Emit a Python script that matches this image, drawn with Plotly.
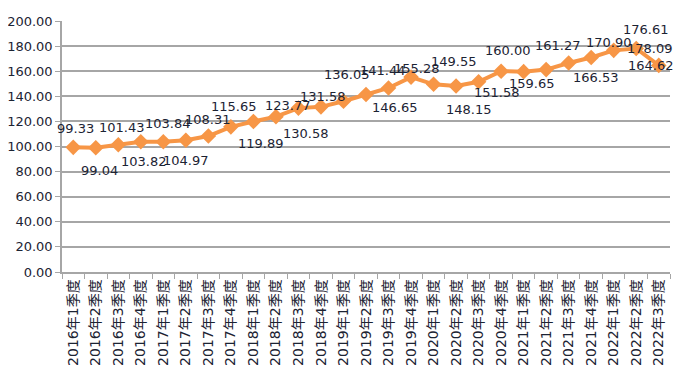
import plotly.graph_objects as go

categories = [
    "2016年1季度", "2016年2季度", "2016年3季度", "2016年4季度",
    "2017年1季度", "2017年2季度", "2017年3季度", "2017年4季度",
    "2018年1季度", "2018年2季度", "2018年3季度", "2018年4季度",
    "2019年1季度", "2019年2季度", "2019年3季度", "2019年4季度",
    "2020年1季度", "2020年2季度", "2020年3季度", "2020年4季度",
    "2021年1季度", "2021年2季度", "2021年3季度", "2021年4季度",
    "2022年1季度", "2022年2季度", "2022年3季度",
]
values = [
    99.33, 99.04, 101.43, 103.82, 103.84, 104.97, 108.31, 115.65,
    119.89, 123.77, 130.58, 131.58, 136.05, 141.44, 146.65, 155.28,
    149.55, 148.15, 151.58, 160.00, 159.65, 161.27, 166.53, 170.90,
    176.61, 178.09, 164.62,
]
y_ticks = [0, 20, 40, 60, 80, 100, 120, 140, 160, 180, 200]

# label offsets in pixels (style only): (xshift, yshift up)
label_offsets = [
    (2, 19), (4, -23), (4, 17), (3, -20), (5, 18), (0, -20), (0, 17), (3, 20),
    (8, -22), (12, 11), (8, -25), (2, 10), (4, 27), (17, 24), (6, -20), (6, 9),
    (20, 23), (13, -23), (18, -11), (7, 21), (8, -12), (12, 24), (27, -14), (18, 15),
    (32, 21), (14, 0), (-8, 0),
]

LINE = "#F79646"
TXT = "#1c2333"
FONT = "DejaVu Sans, Noto Sans CJK SC, sans-serif"

fig = go.Figure()
fig.add_trace(go.Scatter(
    x=categories, y=values, mode="lines+markers",
    line=dict(color=LINE, width=4),
    marker=dict(symbol="diamond", size=12, color=LINE),
    hoverinfo="x+y", showlegend=False,
))

for c, v, (dx, dy) in zip(categories, values, label_offsets):
    fig.add_annotation(
        x=c, y=v, text=f"{v:.2f}", showarrow=False,
        xshift=dx, yshift=dy, xanchor="center", yanchor="middle",
        font=dict(family=FONT, size=13, color=TXT),
    )

# page body has an 8px margin; size/margins compensate so the plot area lands as in the reference
fig.update_layout(
    width=674, height=374,
    margin=dict(l=54, r=12, t=13, b=110),
    paper_bgcolor="white", plot_bgcolor="white",
    font=dict(family=FONT, color=TXT),
)
fig.update_xaxes(
    type="category", tickangle=-90, automargin=False,
    range=[-0.5, len(categories) - 0.5],
    tickfont=dict(family=FONT, size=14, color=TXT),
    showline=True, linecolor="#a6a6a6", linewidth=1.5,
    ticks="outside", tickson="boundaries", ticklen=5, tickcolor="#a6a6a6",
    showgrid=False, zeroline=False,
)
fig.update_yaxes(
    range=[0, 200], tickvals=y_ticks, tickformat=".2f", automargin=False,
    tickfont=dict(family=FONT, size=13, color=TXT),
    showline=True, linecolor="#a6a6a6", linewidth=1.5,
    ticks="outside", ticklen=5, tickcolor="#a6a6a6",
    showgrid=True, gridcolor="#a6a6a6", gridwidth=1.5,
    zeroline=False,
)

fig.write_html("out.html")
